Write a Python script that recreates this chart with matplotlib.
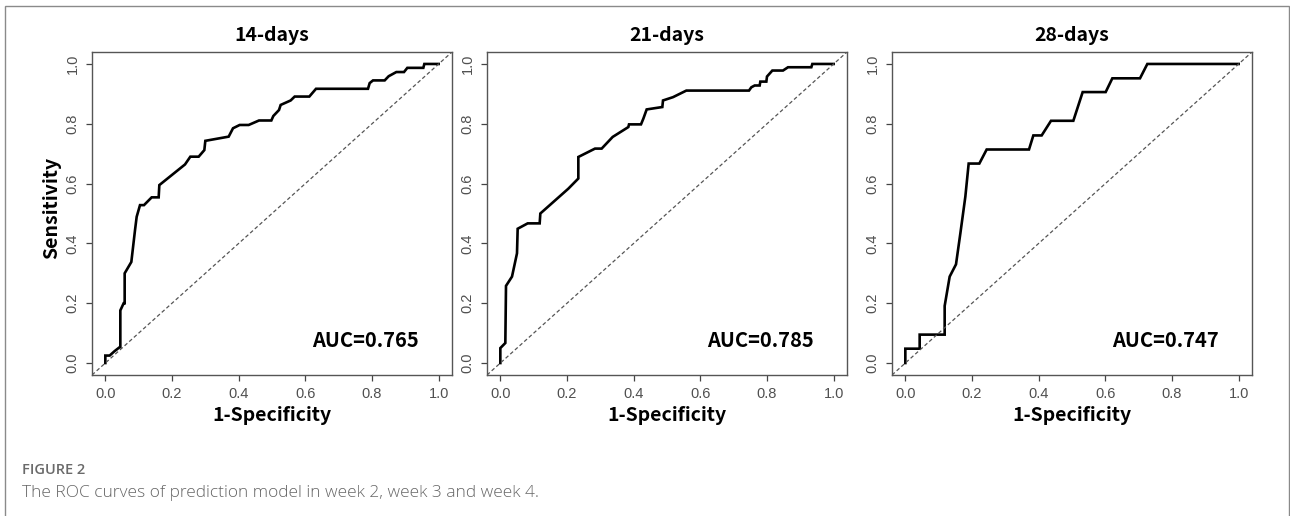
import matplotlib
matplotlib.use("Agg")
import matplotlib.pyplot as plt
from matplotlib.patches import Rectangle

# ROC points (1-specificity, sensitivity)
fpr14 = [0, 0, 0.013, 0.028, 0.043, 0.045, 0.045, 0.055, 0.058, 0.058, 0.078, 0.089, 0.094,
         0.104, 0.116, 0.139, 0.16, 0.162, 0.239, 0.255, 0.28, 0.297, 0.3, 0.37, 0.383, 0.403,
         0.43, 0.461, 0.498, 0.504, 0.521, 0.526, 0.556, 0.568, 0.612, 0.632, 0.788, 0.793,
         0.803, 0.838, 0.85, 0.873, 0.896, 0.906, 0.954, 0.957, 1]
tpr14 = [0, 0.025, 0.025, 0.04, 0.053, 0.053, 0.176, 0.2, 0.2, 0.3, 0.338, 0.444, 0.489,
         0.528, 0.528, 0.554, 0.554, 0.595, 0.664, 0.69, 0.69, 0.712, 0.743, 0.757, 0.785, 0.796,
         0.796, 0.811, 0.811, 0.826, 0.846, 0.863, 0.878, 0.891, 0.891, 0.917, 0.917, 0.936,
         0.945, 0.945, 0.959, 0.973, 0.973, 0.987, 0.987, 1.0, 1.0]

fpr21 = [0, 0, 0.015, 0.017, 0.035, 0.05, 0.052, 0.082, 0.118, 0.12, 0.204, 0.234, 0.234,
         0.284, 0.304, 0.337, 0.384, 0.386, 0.422, 0.429, 0.439, 0.486, 0.488, 0.518, 0.558,
         0.746, 0.753, 0.763, 0.778, 0.78, 0.798, 0.8, 0.816, 0.848, 0.863, 0.933, 0.936, 1]
tpr21 = [0, 0.05, 0.067, 0.258, 0.289, 0.367, 0.449, 0.467, 0.467, 0.5, 0.583, 0.617, 0.689,
         0.717, 0.717, 0.756, 0.789, 0.798, 0.798, 0.817, 0.848, 0.856, 0.878, 0.889, 0.911,
         0.911, 0.922, 0.928, 0.928, 0.941, 0.941, 0.958, 0.978, 0.978, 0.989, 0.989, 1.0, 1.0]

fpr28 = [0, 0, 0.043, 0.043, 0.118, 0.118, 0.133, 0.152, 0.165, 0.18, 0.19, 0.222, 0.244,
         0.371, 0.384, 0.409, 0.437, 0.504, 0.532, 0.601, 0.621, 0.704, 0.726, 1]
tpr28 = [0, 0.048, 0.048, 0.095, 0.095, 0.191, 0.289, 0.33, 0.433, 0.556, 0.667, 0.667, 0.714,
         0.714, 0.761, 0.761, 0.81, 0.81, 0.906, 0.906, 0.952, 0.952, 1.0, 1.0]

titles = ["14-days", "21-days", "28-days"]
aucs = ["AUC=0.765", "AUC=0.785", "AUC=0.747"]
curves = [(fpr14, tpr14), (fpr21, tpr21), (fpr28, tpr28)]
ticks = [0.0, 0.2, 0.4, 0.6, 0.8, 1.0]

bold_font = ["Noto Sans CJK SC", "DejaVu Sans"]
tick_font = "Liberation Sans"

fig = plt.figure(figsize=(12.9, 5.16), dpi=100)

lefts = [92, 487, 892]
for i in range(3):
    ax = fig.add_axes([lefts[i] / 1290, 1 - 375 / 516, 360 / 1290, 323 / 516])
    fpr, tpr = curves[i]
    ax.plot(fpr, tpr, color="black", lw=1.9, solid_joinstyle="miter")
    ax.axline((0, 0), (1, 1), color="#555555", lw=0.9, dashes=(3, 2))
    ax.set_xlim(-0.04, 1.04)
    ax.set_ylim(-0.04, 1.04)
    ax.set_xticks(ticks)
    ax.set_yticks(ticks)
    ax.set_xticklabels(["%.1f" % t for t in ticks], family=tick_font, fontsize=10.5, color="#505050")
    ax.set_yticklabels(["%.1f" % t for t in ticks], family=tick_font, fontsize=10.5, color="#505050",
                       rotation=90, va="center")
    ax.tick_params(direction="out", length=4.5, width=0.9, color="#444444", pad=4.5)
    for s in ax.spines.values():
        s.set_color("#555555")
        s.set_linewidth(1.0)
    ax.set_title(titles[i], family=bold_font, fontweight="bold", fontsize=14, y=1.05, pad=0, va="center")
    ax.set_xlabel("1-Specificity", family=bold_font, fontweight="bold", fontsize=14, va="center")
    ax.xaxis.set_label_coords(0.5, -0.124)
    if i == 0:
        ax.set_ylabel("Sensitivity", family=bold_font, fontweight="bold", fontsize=14, va="center")
        ax.yaxis.set_label_coords(-0.111, 0.517)
    ax.text(0.78, 0.077, aucs[i], family=bold_font, fontweight="bold", fontsize=14.5,
            ha="center", va="center")

# outer frame and caption
fig.patches.append(Rectangle((4.5 / 1290, -0.1), 1284 / 1290, 1.1 - 5.5 / 516,
                             transform=fig.transFigure, fill=False, edgecolor="#8a8a8a", lw=1.0))
fig.text(22 / 1290, 1 - 470 / 516, "FIGURE 2", family="Open Sans", fontweight="semibold",
         fontsize=10.5, color="#6a6a6a", va="center")
fig.text(22 / 1290, 1 - 493 / 516, "The ROC curves of prediction model in week 2, week 3 and week 4.",
         family="Open Sans", fontweight="light", fontsize=12.5, color="#666666", va="center")

fig.savefig("out.png", dpi=100)
